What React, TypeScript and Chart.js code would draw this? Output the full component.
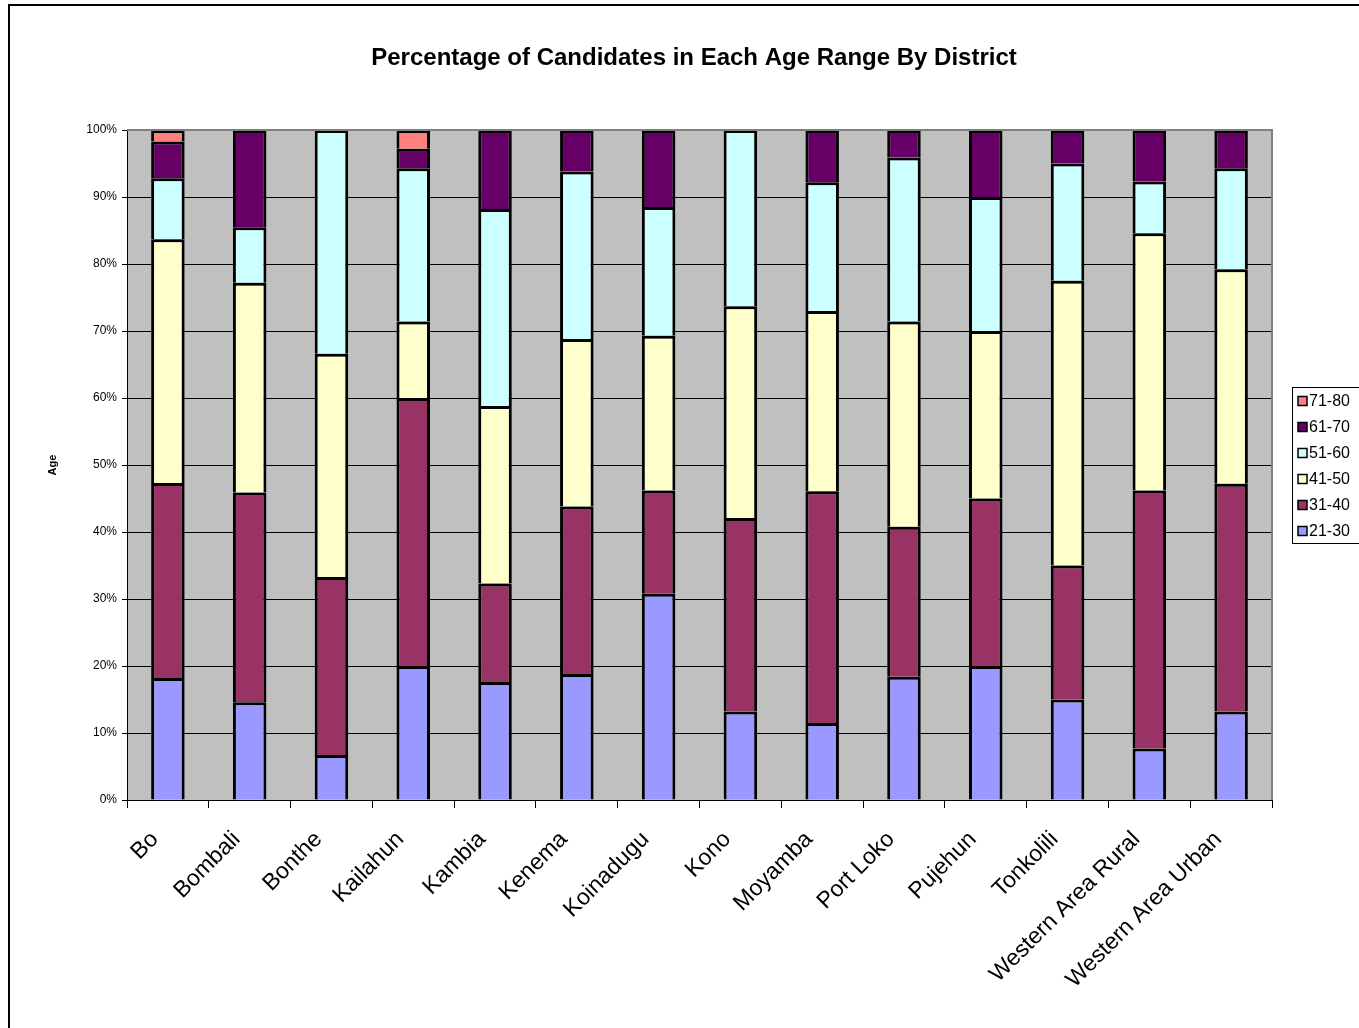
import React, { useEffect, useRef } from 'react';
import { Chart, registerables } from 'chart.js';

Chart.register(...registerables);

const districts = ['Bo', 'Bombali', 'Bonthe', 'Kailahun', 'Kambia', 'Kenema', 'Koinadugu', 'Kono', 'Moyamba', 'Port Loko', 'Pujehun', 'Tonkolili', 'Western Area Rural', 'Western Area Urban'];
const ageRanges = ['21-30', '31-40', '41-50', '51-60', '61-70', '71-80'];
const seriesColors = ['#9999FF', '#993366', '#FFFFCC', '#CCFFFF', '#660066', '#FF8080'];

const age21to30 = [18.2, 14.6, 6.7, 20.0, 17.6, 18.8, 30.8, 13.2, 11.5, 18.4, 20.0, 15.0, 7.7, 13.2];
const age31to40 = [29.1, 31.3, 26.6, 40.0, 14.7, 25.0, 15.4, 28.9, 34.6, 22.4, 25.0, 20.0, 38.5, 34.0];
const age41to50 = [36.4, 31.3, 33.3, 11.4, 26.5, 25.0, 23.1, 31.6, 26.9, 30.6, 25.0, 42.5, 38.4, 32.0];
const age51to60 = [9.1, 8.3, 33.4, 22.9, 29.4, 25.0, 19.2, 26.3, 19.2, 24.5, 20.0, 17.5, 7.7, 15.1];
const age61to70 = [5.5, 14.5, null, 2.9, 11.8, 6.2, 11.5, null, 7.8, 4.1, 10.0, 5.0, 7.7, 5.7];
const age71to80 = [1.7, null, null, 2.8, null, null, null, null, null, null, null, null, null, null];

const seriesValues = [age21to30, age31to40, age41to50, age51to60, age61to70, age71to80];

const titleText = 'Percentage of Candidates in Each Age Range By District';
const yAxisTitle = 'Age';

const FONT = "'Liberation Sans', Arial, sans-serif";

const excelFrame = {
  id: 'excelFrame',
  beforeDraw(chart: any) {
    const { ctx, chartArea: a, width, height } = chart;
    ctx.save();
    ctx.fillStyle = '#FFFFFF';
    ctx.fillRect(0, 0, width, height);
    ctx.strokeStyle = '#000000';
    ctx.lineWidth = 2;
    ctx.strokeRect(9, 5, width + 40, height + 40);
    ctx.fillStyle = '#C0C0C0';
    ctx.fillRect(a.left, a.top, a.right - a.left, a.bottom - a.top);
    ctx.restore();
  },
  afterDraw(chart: any) {
    const { ctx, chartArea: a } = chart;
    ctx.save();
    ctx.strokeStyle = '#808080';
    ctx.lineWidth = 2;
    ctx.beginPath();
    ctx.moveTo(a.left, a.top);
    ctx.lineTo(a.right, a.top);
    ctx.lineTo(a.right, a.bottom);
    ctx.stroke();

    // title
    ctx.fillStyle = '#000000';
    ctx.font = `bold 24px ${FONT}`;
    ctx.textAlign = 'center';
    ctx.textBaseline = 'alphabetic';
    ctx.fillText(titleText, 694, 65);

    // legend
    const lx = 1292.5;
    const ly = 387.5;
    ctx.fillStyle = '#FFFFFF';
    ctx.fillRect(lx, ly, 120, 156);
    ctx.strokeStyle = '#000000';
    ctx.lineWidth = 1;
    ctx.strokeRect(lx, ly, 120, 156);
    const ds = chart.data.datasets;
    ctx.font = `16px ${FONT}`;
    ctx.textBaseline = 'middle';
    ctx.textAlign = 'left';
    for (let i = 0; i < ds.length; i++) {
      const d = ds[ds.length - 1 - i];
      const cy = 401 + i * 26;
      ctx.fillStyle = d.backgroundColor;
      ctx.fillRect(1298, cy - 4.5, 9, 9);
      ctx.strokeStyle = '#000000';
      ctx.lineWidth = 1.5;
      ctx.strokeRect(1298, cy - 4.5, 9, 9);
      ctx.fillStyle = '#000000';
      ctx.fillText(d.label, 1309, cy + 1);
    }
    ctx.restore();
  },
};

export default function App() {
  const ref = useRef<HTMLCanvasElement | null>(null);
  useEffect(() => {
    if (!ref.current) return;
    const chart = new Chart(ref.current, {
      type: 'bar',
      data: {
        labels: districts,
        datasets: ageRanges.map((label, i) => ({
          label,
          data: seriesValues[i],
          backgroundColor: seriesColors[i],
          borderColor: '#000000',
          borderWidth: 3,
          barPercentage: 0.41,
          categoryPercentage: 1,
        })),
      },
      options: {
        responsive: false,
        animation: false,
        devicePixelRatio: 1,
        layout: { padding: { left: 0, right: 87, top: 130, bottom: 0 } },
        plugins: {
          legend: { display: false },
          tooltip: { enabled: false },
          title: { display: false },
        },
        scales: {
          x: {
            stacked: true,
            afterFit: (s: any) => { s.height = 228; },
            grid: {
              offset: true,
              drawOnChartArea: false,
              drawTicks: true,
              tickLength: 8,
              color: '#000000',
            },
            border: { display: true, color: '#000000', width: 1 },
            ticks: {
              autoSkip: false,
              maxRotation: 45,
              minRotation: 45,
              padding: 18,
              labelOffset: -13,
              color: '#000000',
              font: { family: FONT, size: 23 },
            },
          },
          y: {
            stacked: true,
            min: 0,
            max: 100,
            afterFit: (s: any) => { s.width = 127; },
            grid: {
              color: '#000000',
              tickLength: 5,
              lineWidth: 1,
            },
            border: { display: true, color: '#000000', width: 1 },
            ticks: {
              stepSize: 10,
              padding: 5,
              color: '#000000',
              font: { family: FONT, size: 12 },
              callback: (v: any) => `${v}%`,
            },
            title: {
              display: true,
              text: yAxisTitle,
              color: '#000000',
              font: { family: FONT, size: 11, weight: 'bold', lineHeight: 1.2 },
              padding: { top: 46, bottom: 0 },
            },
          },
        },
      },
      plugins: [excelFrame],
    });
    return () => chart.destroy();
  }, []);
  return (
    <div style={{ position: 'absolute', left: 0, top: 0, width: 1359, height: 1028 }}>
      <canvas ref={ref} width={1359} height={1028} />
    </div>
  );
}
